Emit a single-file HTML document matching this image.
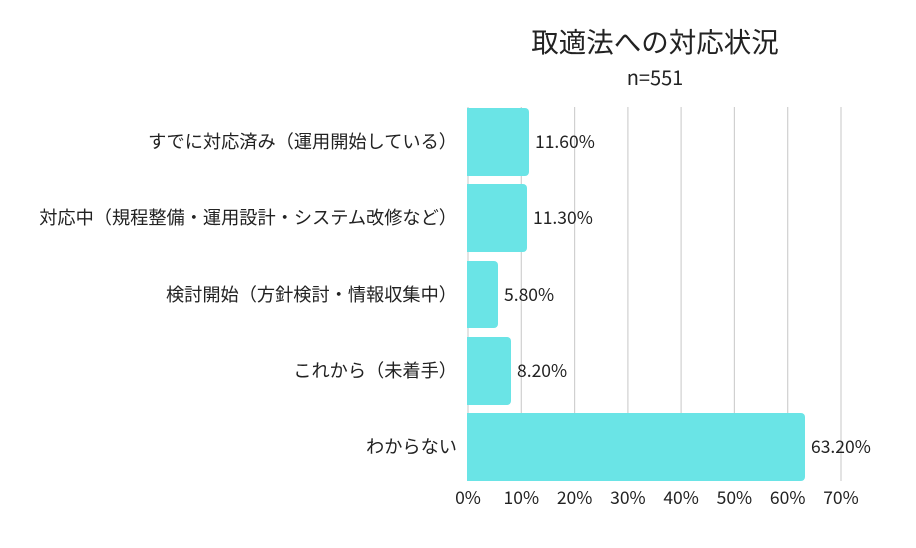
<!DOCTYPE html><html><head><meta charset="utf-8"><style>body{margin:0;background:#fff}</style></head><body>
<svg width="916" height="543" xmlns="http://www.w3.org/2000/svg" font-family="Noto Sans CJK JP, sans-serif">
<rect width="916" height="543" fill="#fff"/>
<text x="655" y="52" font-size="27.5" text-anchor="middle" fill="#222">取適法への対応状況</text>
<text x="655" y="85" font-size="20" text-anchor="middle" fill="#222">n=551</text>
<g stroke="#d0d0d0" stroke-width="1.2">
<line x1="468" y1="107" x2="468" y2="481"/><line x1="521.3" y1="107" x2="521.3" y2="481"/><line x1="574.6" y1="107" x2="574.6" y2="481"/><line x1="627.9" y1="107" x2="627.9" y2="481"/><line x1="681.1" y1="107" x2="681.1" y2="481"/><line x1="734.4" y1="107" x2="734.4" y2="481"/><line x1="787.7" y1="107" x2="787.7" y2="481"/><line x1="841" y1="107" x2="841" y2="481"/>
</g>
<g fill="#6ae4e6">
<path d="M467 108H525a4 4 0 0 1 4 4V172a4 4 0 0 1-4 4H467Z"/>
<path d="M467 184H523a4 4 0 0 1 4 4V248a4 4 0 0 1-4 4H467Z"/>
<path d="M467 261H494a4 4 0 0 1 4 4V324a4 4 0 0 1-4 4H467Z"/>
<path d="M467 337H507a4 4 0 0 1 4 4V401a4 4 0 0 1-4 4H467Z"/>
<path d="M467 413H801a4 4 0 0 1 4 4V477a4 4 0 0 1-4 4H467Z"/>
</g>
<g font-size="17.5" fill="#222">
<text x="535" y="148">11.60%</text><text x="533" y="224">11.30%</text><text x="504" y="301">5.80%</text><text x="517" y="377">8.20%</text><text x="811" y="453">63.20%</text>
</g>
<g font-size="18.2" fill="#222" text-anchor="end">
<text x="457" y="148">すでに対応済み（運用開始している）</text>
<text x="457" y="224">対応中（規程整備・運用設計・システム改修など）</text>
<text x="457" y="301">検討開始（方針検討・情報収集中）</text>
<text x="457" y="377">これから（未着手）</text>
<text x="457" y="453">わからない</text>
</g>
<g font-size="17.5" fill="#222" text-anchor="middle">
<text x="468" y="504">0%</text><text x="521.3" y="504">10%</text><text x="574.6" y="504">20%</text><text x="627.9" y="504">30%</text><text x="681.1" y="504">40%</text><text x="734.4" y="504">50%</text><text x="787.7" y="504">60%</text><text x="841" y="504">70%</text>
</g>
</svg></body></html>
